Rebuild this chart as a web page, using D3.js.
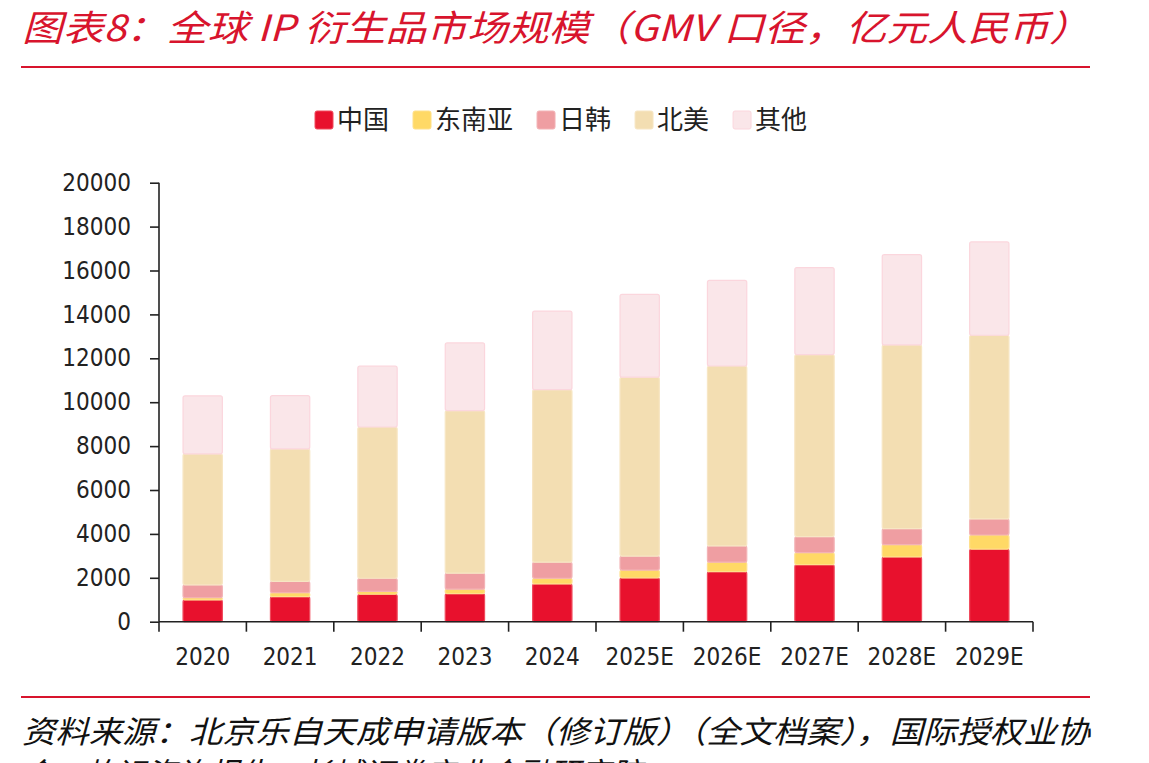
<!DOCTYPE html>
<html>
<head>
<meta charset="utf-8">
<script src="https://cdn.jsdelivr.net/npm/d3@7"></script>
<style>
  body { margin: 0; background: #fff; }
  svg { display: block; }
  .axis text { font-family: 'DejaVu Sans Condensed', 'DejaVu Sans', sans-serif; font-size: 24px; fill: #222; }
  .axis path, .axis line { stroke: #222; stroke-width: 1.6; }
  .cjk { font-family: 'Noto Sans CJK SC', sans-serif; }
</style>
</head>
<body>
<svg id="chart" width="1149" height="763"></svg>
<script>
const years = ['2020', '2021', '2022', '2023', '2024', '2025E', '2026E', '2027E', '2028E', '2029E']
const china = [990, 1140, 1250, 1280, 1720, 2000, 2280, 2600, 2950, 3310]
const seAsia = [100, 180, 130, 200, 260, 350, 430, 550, 560, 640]
const japanKorea = [590, 520, 600, 730, 730, 640, 740, 730, 730, 730]
const northAmerica = [5970, 6030, 6890, 7410, 7860, 8150, 8200, 8290, 8370, 8370]
const others = [2640, 2430, 2770, 3080, 3580, 3770, 3900, 3960, 4110, 4250]
const seriesNames = ['中国', '东南亚', '日韩', '北美', '其他']
const yTicks = [0, 2000, 4000, 6000, 8000, 10000, 12000, 14000, 16000, 18000, 20000]

const fills = ['#e8112d', '#ffd966', '#ef9ea2', '#f3deb2', '#fae6e9']
const strokes = ['#f04a5c', '#ffe08a', '#f3b3b6', '#f7e6c4', '#fbd6dd']

const svg = d3.select('#chart')
const plot = { left: 159, right: 1033, top: 182.7, bottom: 621.7 }

// header / footer
svg.append('text').classed('cjk', true)
  .attr('x', 22).attr('y', 41)
  .attr('font-size', 36).attr('font-style', 'italic')
  .attr('fill', '#d8142d')
  .attr('textLength', 1068).attr('lengthAdjust', 'spacingAndGlyphs')
  .text('图表8：全球 IP 衍生品市场规模（GMV 口径，亿元人民币）')
svg.append('rect').attr('x', 21).attr('y', 66).attr('width', 1069).attr('height', 2).attr('fill', '#d8142d')
svg.append('rect').attr('x', 21).attr('y', 696).attr('width', 1069).attr('height', 2).attr('fill', '#d8142d')
svg.append('text').classed('cjk', true)
  .attr('x', 22).attr('y', 743)
  .attr('font-size', 31).attr('font-style', 'italic').attr('fill', '#111')
  .attr('textLength', 1068).attr('lengthAdjust', 'spacingAndGlyphs')
  .text('资料来源：北京乐自天成申请版本（修订版）（全文档案），国际授权业协')
svg.append('text').classed('cjk', true)
  .attr('x', 22).attr('y', 785)
  .attr('font-size', 31).attr('font-style', 'italic').attr('fill', '#111')
  .text('会，灼识咨询报告，长城证券产业金融研究院')

// scales
const x = d3.scaleBand().domain(years).range([plot.left, plot.right])
  .paddingInner(0.55).paddingOuter(0.275)
const y = d3.scaleLinear().domain([0, 20000]).range([plot.bottom, plot.top])

const table = years.map((yr, i) => ({
  year: yr,
  中国: china[i],
  东南亚: seAsia[i],
  日韩: japanKorea[i],
  北美: northAmerica[i],
  其他: others[i]
}))
const stacked = d3.stack().keys(seriesNames)(table)

// bars
const layers = svg.append('g').selectAll('g').data(stacked).join('g')
  .attr('fill', (d, i) => fills[i])
  .attr('stroke', (d, i) => strokes[i])
  .attr('stroke-width', 1.2)
layers.selectAll('rect').data(d => d).join('rect')
  .attr('x', d => x(d.data.year))
  .attr('width', x.bandwidth())
  .attr('y', d => y(d[1]))
  .attr('height', d => y(d[0]) - y(d[1]))
  .attr('rx', 2)

// y axis
const yAxis = d3.axisLeft(y).tickValues(yTicks).tickFormat(d3.format('d')).tickSize(9).tickPadding(19)
svg.append('g').classed('axis', true)
  .attr('transform', `translate(${plot.left},0)`)
  .call(yAxis)
  .call(g => g.select('.domain').attr('d', `M0,${plot.top}V${plot.bottom}`))

// x axis: ticks sit at the category boundaries
const half = x.step() * x.paddingInner() / 2
const xAxis = d3.axisBottom(x).tickSize(0).tickPadding(26)
const xg = svg.append('g').classed('axis', true)
  .attr('transform', `translate(0,${plot.bottom})`)
  .call(xAxis)
xg.select('.domain').attr('d', `M${plot.left},0H${plot.right}`)
xg.selectAll('.boundary')
  .data(years.map(d => x(d) - half).concat([x(years[years.length - 1]) + x.bandwidth() + half]))
  .join('line').classed('boundary', true)
  .attr('x1', d => d).attr('x2', d => d)
  .attr('y1', 0).attr('y2', 10)

// legend
const legend = svg.append('g').attr('transform', 'translate(315,120)')
let lx = 0
seriesNames.forEach((name, i) => {
  legend.append('rect')
    .attr('x', lx).attr('y', -9).attr('width', 18).attr('height', 18).attr('rx', 2)
    .attr('fill', fills[i]).attr('stroke', strokes[i]).attr('stroke-width', 1)
  const t = legend.append('text').classed('cjk', true)
    .attr('x', lx + 22).attr('y', 9)
    .attr('font-size', 26).attr('fill', '#222')
    .text(name)
  lx += 22 + t.node().getComputedTextLength() + 24
})
</script>
</body>
</html>
